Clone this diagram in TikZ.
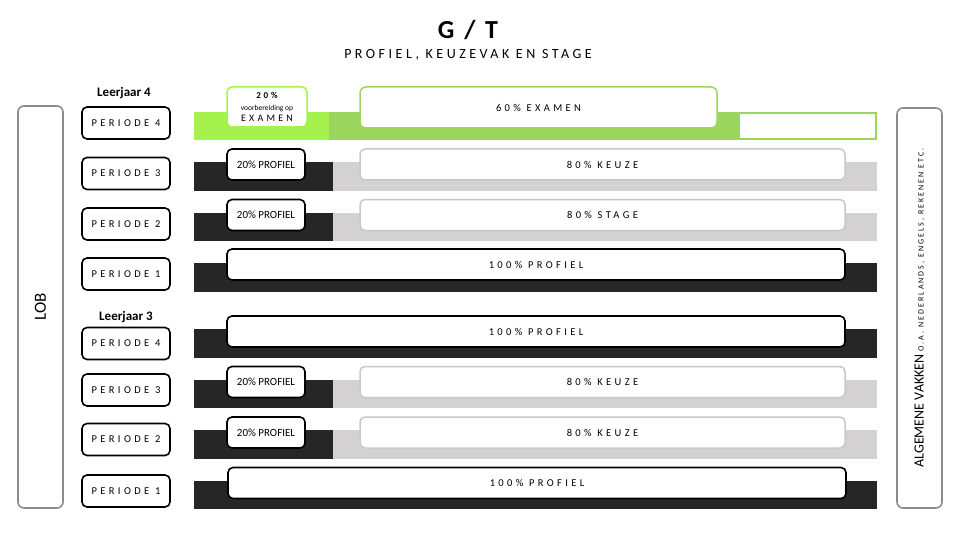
\documentclass[tikz,border=0pt]{standalone}
\usepackage{fontspec}
\setmainfont{Carlito}
\newfontfamily\spaced[LetterSpace=32]{Carlito}
\newfontfamily\wide[LetterSpace=25]{Carlito}
\usepackage{xcolor}
\usepackage{tikz}

\definecolor{donker}{HTML}{262626}
\definecolor{grijs}{HTML}{D3D1D1}
\definecolor{limegroen}{HTML}{A5F24E}
\definecolor{olijfgroen}{HTML}{9DD65E}
\definecolor{randgrijs}{HTML}{8C8C8C}
\definecolor{lichtrand}{HTML}{C8C8C8}

\begin{document}
\begin{tikzpicture}[x=1pt, y=-1pt]
    % Styles
    \tikzstyle{periode} = [rectangle, draw, line width=1.6pt, rounded corners=5pt, fill=white, minimum width=88pt, minimum height=32pt, inner sep=0pt, font=\spaced\fontsize{10.5}{12}\selectfont]
    \tikzstyle{profiel} = [rectangle, draw, line width=1.6pt, rounded corners=5pt, fill=white, minimum width=78pt, minimum height=31pt, inner sep=0pt, font=\fontsize{11}{13}\selectfont]
    \tikzstyle{keuze} = [rectangle, draw=lichtrand, line width=1.5pt, rounded corners=5pt, fill=white, minimum width=485pt, minimum height=31pt, inner sep=0pt, font=\spaced\fontsize{10.5}{12}\selectfont]
    \tikzstyle{vol} = [rectangle, draw, line width=1.6pt, rounded corners=5pt, fill=white, minimum width=618pt, minimum height=31pt, inner sep=0pt, font=\spaced\fontsize{10.5}{12}\selectfont]
    \tikzstyle{zijbalk} = [rectangle, draw=randgrijs, line width=1.6pt, rounded corners=6pt, rotate=90, minimum width=400pt, minimum height=45pt, inner sep=0pt]
    \tikzstyle{jaar} = [font=\bfseries\fontsize{13}{15}\selectfont]

    \useasboundingbox (0,0) rectangle (960,540);

    % Titel
    \node[font=\bfseries\fontsize{26}{30}\selectfont\addfontfeature{LetterSpace=15}] (titel) at (468,30) {G / T};
    \node[font=\wide\fontsize{14}{16}\selectfont] (subtitel) at (468,55) {PROFIEL, KEUZEVAK EN STAGE};

    % Balken
    \fill[limegroen] (194,112) rectangle (329,140);
    \fill[olijfgroen] (329,112) rectangle (738,140);
    \draw[olijfgroen, line width=1.5pt, fill=white] (739,113) rectangle (876,139);
    \fill[donker] (194,162) rectangle (333,191);
    \fill[grijs] (333,162) rectangle (877,191);
    \fill[donker] (194,213) rectangle (333,241);
    \fill[grijs] (333,213) rectangle (877,241);
    \fill[donker] (194,263) rectangle (877,292);
    \fill[donker] (194,329) rectangle (877,358);
    \fill[donker] (194,380) rectangle (333,408);
    \fill[grijs] (333,380) rectangle (877,408);
    \fill[donker] (194,430) rectangle (333,459);
    \fill[grijs] (333,430) rectangle (877,459);
    \fill[donker] (194,481) rectangle (877,509);

    % Zijbalken
    \node[zijbalk, minimum width=402pt, font=\fontsize{17}{19}\selectfont] (lob) at (40.5,307) {LOB};
    \node[zijbalk] (algemeen) at (919.5,308)
        {\fontsize{14}{16}\selectfont ALGEMENE VAKKEN {\wide\fontsize{8}{10}\selectfont O.A. NEDERLANDS, ENGELS, REKENEN ETC.}};

    % Leerjaar 4
    \node[jaar] (jaar4) at (124,93) {Leerjaar 4};
    \node[periode] (lj4p4) at (126,123) {PERIODE 4};
    \node[periode] (lj4p3) at (126,173.5) {PERIODE 3};
    \node[periode] (lj4p2) at (126,224) {PERIODE 2};
    \node[periode] (lj4p1) at (126,274) {PERIODE 1};

    \node[rectangle, draw=limegroen, line width=1.5pt, rounded corners=5pt, fill=white, minimum width=80pt, minimum height=40pt, inner sep=0pt, align=center, font=\fontsize{9}{11.5}\selectfont] (voorb) at (267,107)
        {{\spaced\bfseries 20\%}\\{\fontsize{7.5}{11.5}\selectfont voorbereiding op}\\{\spaced\fontsize{10}{11.5}\selectfont EXAMEN}};
    \node[rectangle, draw=olijfgroen, line width=1.5pt, rounded corners=6pt, fill=white, minimum width=357pt, minimum height=41pt, inner sep=0pt, font=\spaced\fontsize{10.5}{12}\selectfont] (examen) at (538.5,107.5) {60\% EXAMEN};

    \node[profiel] (prof4p3) at (266,164.5) {20\% PROFIEL};
    \node[keuze] (keuze4p3) at (602.5,164.5) {80\% KEUZE};
    \node[profiel] (prof4p2) at (266,215) {20\% PROFIEL};
    \node[keuze] (stage4p2) at (602.5,215) {80\% STAGE};
    \node[vol] (vol4p1) at (536,264.5) {100\% PROFIEL};

    % Leerjaar 3
    \node[jaar] (jaar3) at (126,317) {Leerjaar 3};
    \node[periode] (lj3p4) at (126,343.5) {PERIODE 4};
    \node[periode] (lj3p3) at (126,390) {PERIODE 3};
    \node[periode] (lj3p2) at (126,439.5) {PERIODE 2};
    \node[periode] (lj3p1) at (126,491) {PERIODE 1};

    \node[vol] (vol3p4) at (536,331.5) {100\% PROFIEL};
    \node[profiel] (prof3p3) at (266,382) {20\% PROFIEL};
    \node[keuze] (keuze3p3) at (602.5,382) {80\% KEUZE};
    \node[profiel] (prof3p2) at (266,432.5) {20\% PROFIEL};
    \node[keuze] (keuze3p2) at (602.5,432.5) {80\% KEUZE};
    \node[vol] (vol3p1) at (537,483) {100\% PROFIEL};

\end{tikzpicture}
\end{document}
